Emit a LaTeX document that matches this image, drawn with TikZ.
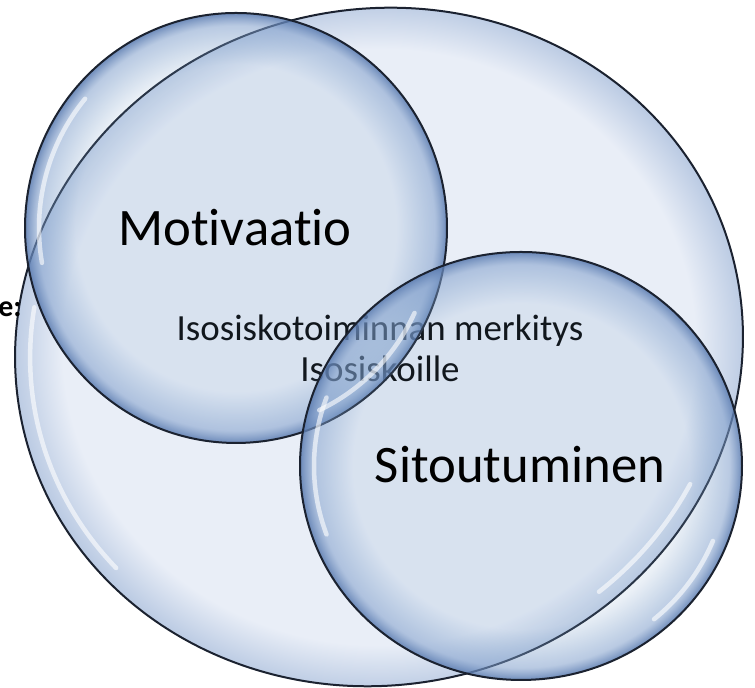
\documentclass[tikz,border=0pt]{standalone}
\usepackage{fontspec}
\setmainfont[Ligatures={NoCommon}]{Carlito}
\usetikzlibrary{calc,fadings}

\definecolor{rimline}{HTML}{1B2230}
\definecolor{bigin}{HTML}{E9EEF7}
\definecolor{bigmid}{HTML}{B6C7E1}
\definecolor{bigrim}{HTML}{7E99C4}
\definecolor{bubin}{HTML}{789EC8}
\definecolor{bubmid}{HTML}{7F9ECB}
\definecolor{bubrim}{HTML}{5A7BB0}

\pgfdeclareradialshading{bigglass}{\pgfpointorigin}{color(0bp)=(bigin); color(20bp)=(bigin);
  color(23.5bp)=(bigmid); color(25bp)=(bigrim); color(50bp)=(bigrim)}
\pgfdeclareradialshading{bubbleglass}{\pgfpointorigin}{color(0bp)=(bubin); color(19bp)=(bubin);
  color(23.5bp)=(bubmid); color(25bp)=(bubrim); color(50bp)=(bubrim)}
\pgfdeclareradialshading{bubblefadeshade}{\pgfpointorigin}{color(0bp)=(black!85);
  color(19bp)=(black!85); color(23.5bp)=(black!45);
  color(25bp)=(black!10); color(50bp)=(black!10)}
\pgfdeclarefading{bubblefade}{\pgfuseshading{bubblefadeshade}}

\tikzset{%
  inner sep=0pt,%
  rim line/.style={draw=rimline, line width=0.04cm},% dark outline
  big glass/.style={shade, shading=bigglass},%
  bubble glass/.style={shade, shading=bubbleglass, path fading=bubblefade, fit fading=true},%
  gloss/.style={draw=white, line width=0.09cm, line cap=round, draw opacity=0.6},%
  big label/.style={font=\fontsize{30}{36}\selectfont, anchor=base},%
  mid label/.style={font=\fontsize{21}{23.5}\selectfont, align=center},%
  side label/.style={font=\fontsize{17}{20}\selectfont\bfseries, anchor=base east}%
}

\begin{document}
\begin{tikzpicture}[x=0.02cm,y=0.02cm] % KUPLAT

\useasboundingbox (0,0) rectangle (755,688);

\coordinate (Big) at (379,341);
\coordinate (Mot) at (236,460);
\coordinate (Sit) at (521,222);

% iso kupla
\path[big glass, rotate around={12:(Big)}] (Big) ellipse[x radius=365, y radius=338];
\draw[rim line, rotate around={12:(Big)}] (Big) ellipse[x radius=365, y radius=338];
\node[mid label] (Merkitys) at (380,340) {Isosiskotoiminnan merkitys\\Isosiskoille};
\node[side label] (Reuna) at (22,371) {e:};

% motivaatio
\path[bubble glass] (Mot) ellipse[x radius=211, y radius=215];
\draw[rim line] (Mot) ellipse[x radius=211, y radius=215];
\node[big label] (Motivaatio) at (235,442) {Motivaatio};

% sitoutuminen
\path[bubble glass] (Sit) ellipse[x radius=221, y radius=214];
\draw[rim line] (Sit) ellipse[x radius=221, y radius=214];
\node[big label] (Sitoutuminen) at (520,205) {Sitoutuminen};

% kiiltoraidat
\draw[gloss, rotate around={12:(Big)}] ($(Big)+(160:350 and 323)$)
    arc[start angle=160, end angle=210, x radius=350, y radius=323];
\draw[gloss, rotate around={12:(Big)}] ($(Big)+(-62:350 and 323)$)
    arc[start angle=-62, end angle=-38, x radius=350, y radius=323];
\draw[gloss] ($(Mot)+(140:197 and 201)$)
    arc[start angle=140, end angle=190, x radius=197, y radius=201];
\draw[gloss] ($(Mot)+(-65:197 and 201)$)
    arc[start angle=-65, end angle=-25, x radius=197, y radius=201];
\draw[gloss] ($(Sit)+(160:207 and 200)$)
    arc[start angle=160, end angle=200, x radius=207, y radius=200];
\draw[gloss] ($(Sit)+(-50:207 and 200)$)
    arc[start angle=-50, end angle=-22, x radius=207, y radius=200];

\end{tikzpicture}
\end{document}
